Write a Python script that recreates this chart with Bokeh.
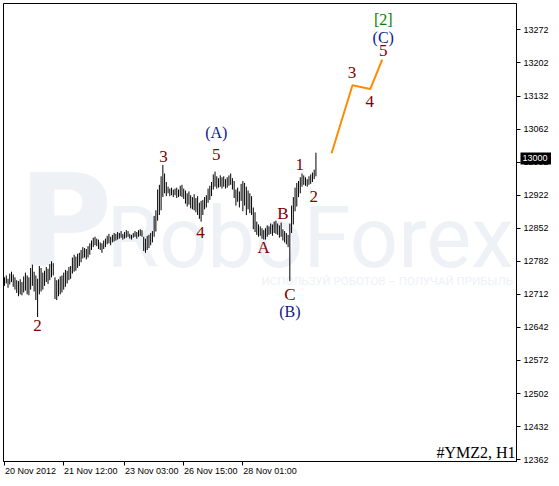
from bokeh.plotting import figure
from bokeh.models import FixedTicker, Label, Range1d, ColumnDataSource, LinearAxis
from bokeh.core.properties import value
from bokeh.embed import file_html
from bokeh.resources import INLINE

# ---------------- data (H1 bars, #YMZ2) ----------------
highs = [12748, 12752, 12745, 12756, 12760, 12754, 12748, 12742, 12740, 12744,
         12738, 12750, 12758, 12752, 12748, 12768, 12775, 12760, 12752, 12745,
         12772, 12768, 12758, 12762, 12770, 12766, 12776, 12782, 12778, 12748,
         12742, 12744, 12750, 12752, 12758, 12764, 12762, 12770, 12772, 12790,
         12796, 12792, 12798, 12800, 12806, 12812, 12810, 12808, 12814, 12820,
         12826, 12832, 12834, 12830, 12828, 12822, 12820, 12826, 12830, 12836,
         12840, 12834, 12838, 12842, 12840, 12844, 12842, 12846, 12840, 12844,
         12848, 12846, 12840, 12838, 12842, 12846, 12844, 12848, 12850, 12848,
         12834, 12830, 12836, 12838, 12842, 12846, 12878, 12890, 12934, 12944,
         12962, 12986, 12968, 12950, 12940, 12936, 12938, 12934, 12936, 12938,
         12934, 12942, 12944, 12936, 12932, 12926, 12930, 12922, 12918, 12924,
         12916, 12920, 12906, 12910, 12912, 12918, 12922, 12936, 12942, 12950,
         12966, 12972, 12962, 12958, 12964, 12960, 12962, 12956, 12960, 12964,
         12968, 12958, 12952, 12934, 12938, 12930, 12946, 12952, 12948, 12940,
         12932, 12926, 12920, 12896, 12886, 12866, 12860, 12856, 12852, 12848,
         12852, 12858, 12856, 12862, 12860, 12866, 12868, 12862, 12858, 12864,
         12850, 12846, 12842, 12838, 12862, 12900, 12918, 12938, 12948, 12952,
         12960, 12968, 12964, 12960, 12956, 12962, 12966, 12970, 12976, 13012]

lows = [12730, 12735, 12726, 12733, 12738, 12728, 12722, 12715, 12708, 12712,
        12710, 12716, 12720, 12712, 12710, 12722, 12730, 12718, 12700, 12664,
        12712, 12718, 12722, 12730, 12738, 12734, 12742, 12748, 12752, 12702,
        12700, 12708, 12712, 12716, 12722, 12728, 12735, 12742, 12745, 12756,
        12760, 12762, 12768, 12772, 12780, 12788, 12790, 12786, 12790, 12796,
        12806, 12812, 12816, 12814, 12808, 12806, 12800, 12808, 12812, 12818,
        12820, 12816, 12822, 12824, 12826, 12828, 12830, 12832, 12828, 12830,
        12832, 12834, 12830, 12828, 12832, 12834, 12830, 12834, 12836, 12834,
        12804, 12800, 12806, 12810, 12816, 12822, 12834, 12845, 12868, 12880,
        12890, 12918, 12926, 12920, 12926, 12920, 12922, 12918, 12922, 12916,
        12918, 12920, 12918, 12914, 12904, 12898, 12902, 12894, 12892, 12890,
        12886, 12880, 12872, 12866, 12880, 12892, 12896, 12906, 12912, 12920,
        12934, 12940, 12936, 12938, 12940, 12936, 12940, 12936, 12938, 12942,
        12944, 12934, 12916, 12900, 12908, 12896, 12910, 12888, 12900, 12880,
        12892, 12884, 12880, 12850, 12844, 12838, 12834, 12836, 12830, 12828,
        12828, 12834, 12838, 12840, 12836, 12842, 12840, 12838, 12832, 12834,
        12826, 12822, 12818, 12812, 12740, 12842, 12860, 12888, 12898, 12918,
        12926, 12940, 12944, 12942, 12940, 12944, 12946, 12950, 12956, 12962]

bar_index = list(range(len(highs)))

# forecast path (bar index, price)
forecast_x = [188.0, 200.0, 210.3, 217.1]
forecast_y = [13011, 13155, 13147, 13209]

# wave labels
wave_text = ["2", "3", "5", "(A)", "4", "A", "B", "C", "(B)", "1", "2",
             "3", "4", "5", "(C)", "[2]"]
wave_x = [18.9, 91.4, 121.7, 121.7, 112.6, 149.0, 160.0, 164.0, 164.0, 169.7, 177.7,
          199.7, 210.0, 217.7, 217.7, 217.7]
wave_y = [12645, 13005, 13009, 13055, 12844, 12812, 12883, 12712, 12676, 12986, 12919,
          13182, 13120, 13228, 13255, 13295]
wave_kind = ["minor", "minor", "minor", "inter", "minor", "minor", "minor", "minor", "inter",
             "minor", "minor", "minor", "minor", "minor", "inter", "primary"]

y_ticks = [12362, 12432, 12502, 12572, 12642, 12712, 12782, 12852, 12922, 12992,
           13062, 13132, 13202, 13272]
x_tick_pos = [0, 34, 69, 103, 137]
x_tick_labels = ["20 Nov 2012", "21 Nov 12:00", "23 Nov 03:00", "26 Nov 15:00", "28 Nov 01:00"]
last_price = 13000
symbol_text = "#YMZ2, H1"

# ---------------- layout / styling ----------------
W, H = 551, 478
BORDER_L, BORDER_T, BORDER_R, BORDER_B = 3, 3, 32, 14
X0, X1 = -0.6, 294.3
FRAME_W = W - BORDER_L - BORDER_R

kind_color = {"minor": "#800000", "inter": "#0b1a8c", "primary": "#008000"}
kind_size = {"minor": "17px", "inter": "16px", "primary": "16px"}
AXIS_FONT = "Liberation Sans"
AXIS_SIZE = 9

p = figure(width=W, height=H, output_backend="svg", toolbar_location=None,
           x_range=Range1d(X0, X1), y_range=Range1d(12358, 13328),
           y_axis_location="right", x_axis_location=None,
           min_border_left=BORDER_L, min_border_top=BORDER_T,
           min_border_right=BORDER_R, min_border_bottom=BORDER_B)

p.outline_line_color = "black"
p.outline_line_width = 1
p.xgrid.visible = False
p.ygrid.visible = False
p.background_fill_color = "white"
p.border_fill_color = "white"

# watermark (frame-relative screen units)
wm_color = "#eef1f6"
p.add_layout(Label(x=15, y=166, x_units="screen", y_units="screen", text="P",
                   text_font="DejaVu Sans", text_font_style="bold", text_baseline="bottom",
                   text_font_size="128px", text_color=wm_color, level="underlay"))
p.add_layout(Label(x=103, y=174, x_units="screen", y_units="screen", text="RoboForex",
                   text_font="Roboto", text_font_size="85px", text_baseline="bottom",
                   text_color=wm_color, level="underlay"))
p.add_layout(Label(x=258, y=181, x_units="screen", y_units="screen",
                   text="ИСПОЛЬЗУЙ РОБОТОВ – ПОЛУЧАЙ ПРИБЫЛЬ", text_baseline="alphabetic",
                   text_font="Roboto", text_font_size="11.5px",
                   text_color=wm_color, level="underlay"))

# bars
p.segment(x0=bar_index, y0=lows, x1=bar_index, y1=highs, line_color="black", line_width=1)

# forecast
p.line(forecast_x, forecast_y, line_color="#ff8c00", line_width=2)

# wave labels
src = ColumnDataSource(dict(x=wave_x, y=wave_y, text=wave_text,
                            color=[kind_color[k] for k in wave_kind],
                            size=[kind_size[k] for k in wave_kind]))
p.text(x="x", y="y", text="text", source=src, text_color="color", text_font_size="size",
       text_font=value("Liberation Serif"), text_align="center", text_baseline="middle")

# symbol
p.add_layout(Label(x=512, y=9, x_units="screen", y_units="screen", text=symbol_text,
                   text_font="Liberation Serif", text_font_size="16px",
                   text_color="black", text_align="right", text_baseline="alphabetic"))

# ---- right price axis
ya = p.yaxis[0]
ya.ticker = FixedTicker(ticks=y_ticks)
ya.axis_line_color = "black"
ya.major_tick_out = 4
ya.major_tick_in = 0
ya.minor_tick_line_color = None
ya.major_label_standoff = 3
ya.major_label_text_font = AXIS_FONT
ya.major_label_text_font_size = f"{AXIS_SIZE}px"
ya.major_label_text_color = "black"

# ---- current price marker: an outer right axis with one thick inward tick
marker = LinearAxis(ticker=FixedTicker(ticks=[last_price]),
                    axis_line_color=None, minor_tick_line_color=None,
                    major_tick_in=31, major_tick_out=0,
                    major_tick_line_color="black", major_tick_line_width=12,
                    major_label_standoff=-29,
                    major_label_text_font=AXIS_FONT,
                    major_label_text_font_size=f"{AXIS_SIZE}px",
                    major_label_text_color="white")
p.add_layout(marker, "right")

# ---- time axis: tick marks at the bar positions, labels starting at each tick
tick_axis = LinearAxis(ticker=FixedTicker(ticks=x_tick_pos),
                       major_label_overrides={pos: "" for pos in x_tick_pos},
                       major_label_text_font_size="0px", major_label_standoff=0,
                       axis_line_color="black", major_tick_out=4, major_tick_in=0,
                       minor_tick_line_color=None)
p.add_layout(tick_axis, "below")

EM = {"0": 0.556, "1": 0.556, "2": 0.556, "3": 0.556, "4": 0.556, "5": 0.556,
      "6": 0.556, "7": 0.556, "8": 0.556, "9": 0.556, " ": 0.278, ":": 0.278,
      "N": 0.722, "o": 0.556, "v": 0.5}
px_per_bar = FRAME_W / (X1 - X0)
label_centers = [round(pos + sum(EM.get(c, 0.556) for c in lab) * AXIS_SIZE / 2 / px_per_bar + 0.3, 2)
                 for pos, lab in zip(x_tick_pos, x_tick_labels)]
label_axis = LinearAxis(ticker=FixedTicker(ticks=label_centers),
                        major_label_overrides={c: lab for c, lab in zip(label_centers, x_tick_labels)},
                        axis_line_color=None, major_tick_line_color=None,
                        major_tick_out=0, major_tick_in=0, minor_tick_line_color=None,
                        major_label_standoff=0,
                        major_label_text_font=AXIS_FONT,
                        major_label_text_font_size=f"{AXIS_SIZE}px",
                        major_label_text_color="black")
p.add_layout(label_axis, "below")

open("out.html", "w").write(file_html(p, INLINE))
